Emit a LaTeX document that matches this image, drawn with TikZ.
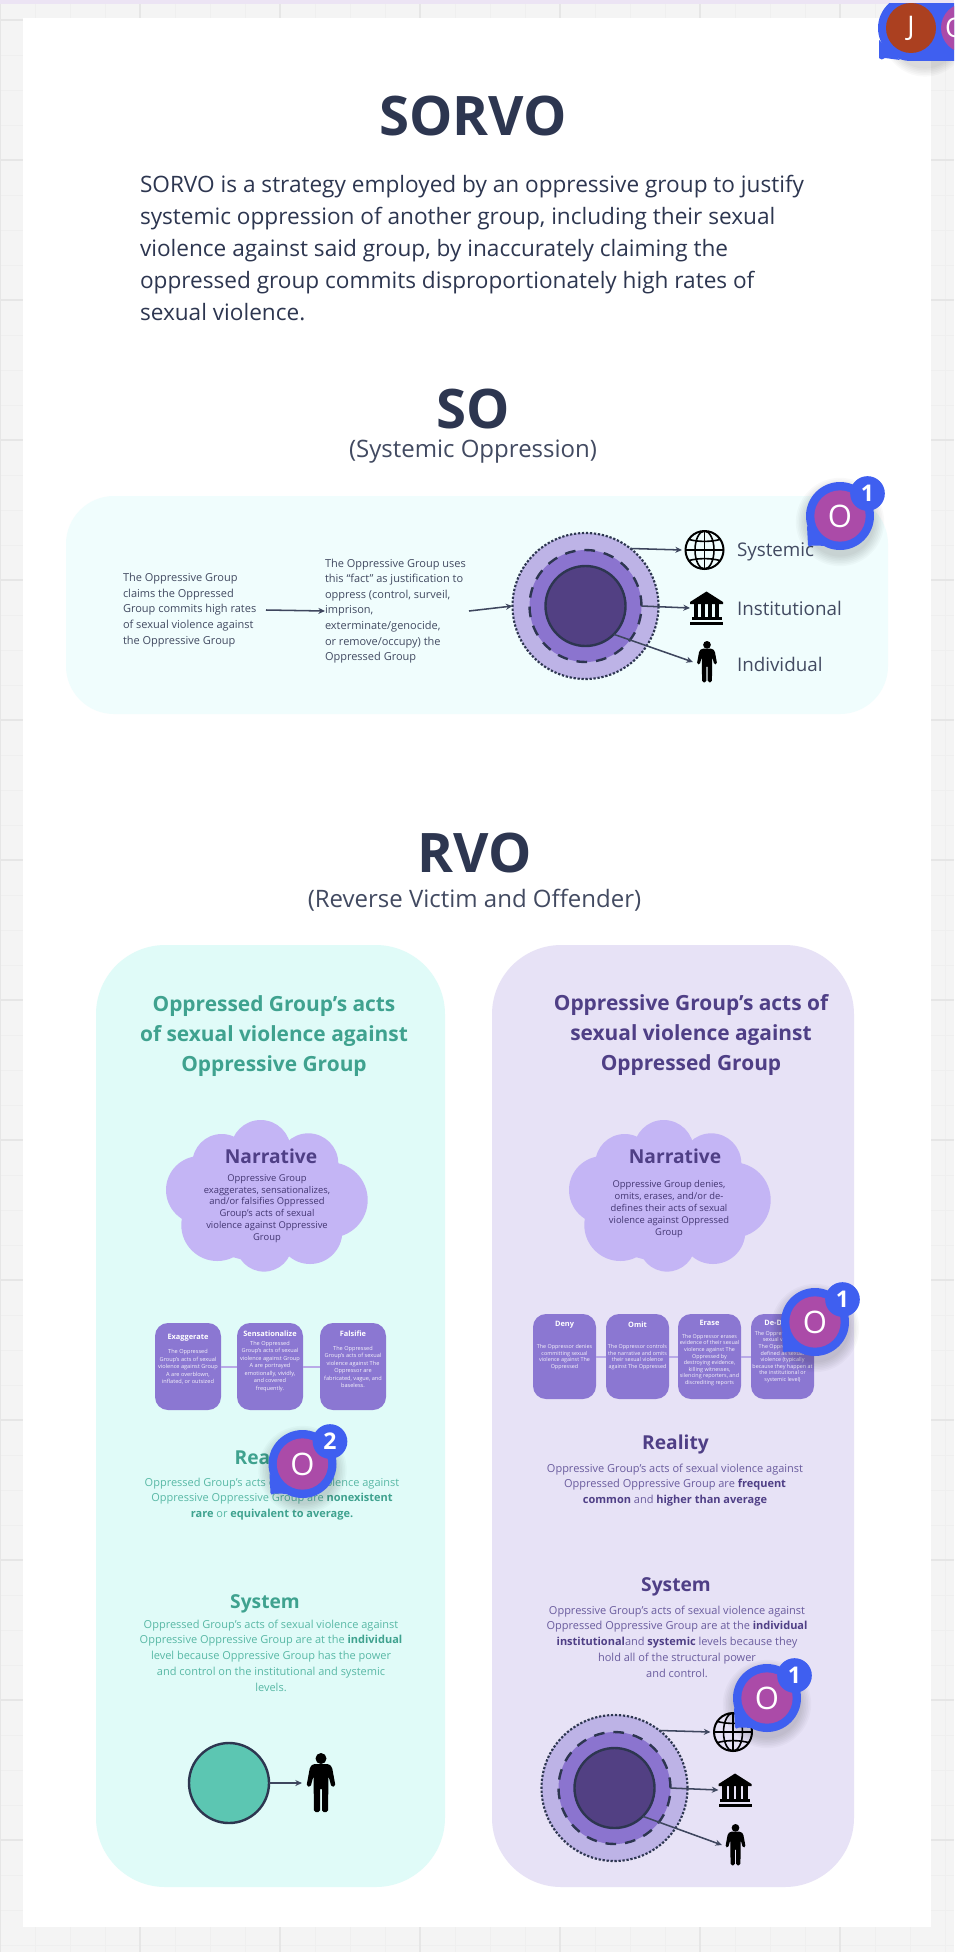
\documentclass[tikz,border=0pt]{standalone}
\usepackage{fontspec}
\setmainfont{Open Sans}
\usetikzlibrary{arrows.meta}
\definecolor{bgc}{HTML}{F4F4F4}
\definecolor{gridminor}{HTML}{EFEFEF}
\definecolor{gridmajor}{HTML}{E6E6E6}
\definecolor{topstrip}{HTML}{ECE4F4}
\definecolor{ink}{HTML}{2D3650}
\definecolor{soPanel}{HTML}{F0FDFD}
\definecolor{tealPanel}{HTML}{E0FBF8}
\definecolor{lilacPanel}{HTML}{E7E2F6}
\definecolor{tealDark}{HTML}{3FA28F}
\definecolor{tealText}{HTML}{58B8A5}
\definecolor{tealFill}{HTML}{5CC6B2}
\definecolor{plumDark}{HTML}{4F3F86}
\definecolor{plumText}{HTML}{6A5C9E}
\definecolor{cloudc}{HTML}{C4B5F5}
\definecolor{boxc}{HTML}{8B77D2}
\definecolor{linkc}{HTML}{B9AAE8}
\definecolor{ringA}{HTML}{BDB3E6}
\definecolor{ringB}{HTML}{8B74CF}
\definecolor{ringC}{HTML}{524083}
\definecolor{bblue}{HTML}{3F5FF0}
\definecolor{bpurple}{HTML}{AB4BA8}
\definecolor{bred}{HTML}{AB4020}
\newcommand{\pxf}[2]{\fontsize{\fpeval{#1*0.75}}{\fpeval{#2*0.75}}\selectfont}
\tikzset{
  txt/.style={inner sep=0pt,outer sep=0pt,align=center},
  heading/.style={txt,text=ink,font=\bfseries\pxf{54.5}{60}},
  subhead/.style={txt,text=ink!90!white,font=\pxf{24}{30}},
  leadtext/.style={txt,text=ink,anchor=north west,align=left,font=\pxf{22.6}{32}},
  flowtext/.style={txt,text=ink!90!white,anchor=west,align=flush left,text width=#1*0.75pt,font=\pxf{11}{15.6}},
  levellabel/.style={txt,text=ink!90!white,anchor=west,font=\pxf{18.8}{24}},
  paneltitle/.style={txt,font=\bfseries\pxf{20.9}{30}},
  sectitle/.style={txt,font=\bfseries\pxf{19.2}{24}},
  cloudbody/.style={txt,text=plumDark!85!black,font=\pxf{9.4}{11.8}},
  tealbody/.style={txt,text=tealText,font=\pxf{11}{15.8}},
  plumbody/.style={txt,text=plumText,font=\pxf{11}{15.8}},
  stepbox/.style={rounded corners=13*0.75pt,fill=boxc,inner sep=0pt,outer sep=0pt,minimum width=#1*0.75pt},
  boxhead/.style={txt,text=white,font=\bfseries\pxf{7.4}{9}},
  boxbody/.style={txt,text=white!92!boxc,font=\pxf{5.6}{7.5}},
  boxlink/.style={draw=linkc,line width=1.5pt},
  conn/.style={draw=ink!92!white,line width=1.15pt,-{Stealth[length=5pt,width=4.5pt]}},
  ring/.style={circle,inner sep=0pt,outer sep=0pt,minimum size=#1*1.5pt},
  ringout/.style={ring=#1,fill=ringA,draw=ink,line width=1.6pt,dash pattern=on 1.7pt off 1.3pt},
  ringmid/.style={ring=#1,fill=ringB,draw=ink,line width=1.8pt,dash pattern=on 8pt off 6.7pt},
  ringin/.style={ring=#1,fill=ringC,draw=ink,line width=1.8pt},
  iconbox/.style={inner sep=0pt,outer sep=0pt,minimum height=20pt,minimum width=#1*0.75pt},
  person/.pic={
    \fill[black] (0,-24.5) circle[radius=5.5];
    \fill[black,rounded corners=1.2pt] (-8,-19) -- (8,-19) -- (11,-16) -- (14.5,3) -- (10.5,4) -- (7.5,-7) -- (7,29) -- (1,29) -- (1,5) -- (-1,5) -- (-1,29) -- (-7,29) -- (-7.5,-7) -- (-10.5,4) -- (-14.5,3) -- (-11,-16) -- cycle;
  },
  temple/.pic={
    \fill[black] (-16.5,-6) -- (0,-16.5) -- (16.5,-6) -- (16.5,-4) -- (-16.5,-4) -- cycle;
    \foreach \cx in {-10.5,-3.5,3.5,10.5} {\fill[black] (\cx-2.4,-4) rectangle (\cx+2.4,9);}
    \fill[black] (-15,9) rectangle (15,11.5);
    \fill[black] (-16.5,13.5) rectangle (16.5,16.5);
  },
  globe/.pic={
    \draw[black,line width=1.5pt] (0,0) circle[x radius=19,y radius=19];
    \draw[black,line width=1.2pt] (0,0) circle[x radius=9.5,y radius=19];
    \draw[black,line width=1.2pt] (0,-19) -- (0,19) (-19,0) -- (19,0);
    \draw[black,line width=1.2pt] (-15.5,-10.5) .. controls (-6,-8) and (6,-8) .. (15.5,-10.5);
    \draw[black,line width=1.2pt] (-15.5,10.5) .. controls (-6,8) and (6,8) .. (15.5,10.5);
  },
  badgeout/.style={circle,fill=bblue,inner sep=0pt,outer sep=0pt,minimum size=51pt},
  badgein/.style={circle,fill=bpurple,inner sep=0pt,outer sep=0pt,minimum size=38.5pt,text=white,font=\pxf{31}{34}},
  badgenum/.style={circle,fill=bblue,inner sep=0pt,outer sep=0pt,minimum size=26pt,text=white,font=\bfseries\pxf{23}{26}},
}
% name, x, y, number
\newcommand{\commentbadge}[4]{%
  \foreach \k in {1,...,7} {\fill[black,opacity=.022] (#2,#3+6) circle[radius=33+\k*1.6];}
  \fill[bblue] (#2-33,#3+10) -- (#2-32,#3+29) .. controls (#2-32,#3+31) and (#2-30,#3+31) .. (#2-28,#3+29.5) -- (#2-10,#3+30) -- cycle;
  \node[badgeout] (#1out) at (#2,#3) {};
  \node[badgein] (#1in) at (#2,#3) {O};
  \node[badgenum] (#1num) at (#2+27.5,#3-22.5) {#4};
}
\newcommand{\narrativecloud}[1]{%
  \begin{scope}[shift={(#1,0)}]
    \foreach \cx/\cy/\cr in {260.7/1150/30,221.7/1163.3/29.3,308.3/1163.3/30,200/1190/34,330/1200/37.7,217.3/1225/36,310/1231.7/32.3,264/1243.3/28.3,265/1193/56,250/1210/50,285/1205/50}
      {\fill[cloudc] (\cx,\cy) circle[radius=\cr];}
  \end{scope}
}
\begin{document}
\begin{tikzpicture}[x=0.75pt,y=-0.75pt]
\useasboundingbox (0,0) rectangle (954,1952);
% board background
\fill[bgc] (0,0) rectangle (954,1952);
\foreach \gx in {35,70,...,945} {\draw[gridminor,line width=.6pt] (\gx,0) -- (\gx,1952);}
\foreach \gy in {20,55,...,1945} {\draw[gridminor,line width=.6pt] (0,\gy) -- (954,\gy);}
\foreach \gx in {0,140,...,945} {\draw[gridmajor,line width=.8pt] (\gx,0) -- (\gx,1952);}
\foreach \gy in {20,160,...,1945} {\draw[gridmajor,line width=.8pt] (0,\gy) -- (954,\gy);}
\fill[topstrip] (0,0) rectangle (954,4);
\fill[white] (23,18) rectangle (931,1927);

% header
\node[heading] (title) at (473,116) {SORVO};
\node[leadtext] (lead) at (140,175) {SORVO is a strategy employed by an oppressive group to justify\\systemic oppression of another group, including their sexual\\violence against said group, by inaccurately claiming the\\oppressed group commits disproportionately high rates of\\sexual violence.};
\node[heading] (so) at (473,409) {SO};
\node[subhead] (sosub) at (473,452) {(Systemic Oppression)};

% SO panel
\fill[soPanel,rounded corners=36pt] (66,496) rectangle (888,714);
\node[flowtext=143] (claim) at (123,610) {The Oppressive Group\\claims the Oppressed\\Group commits high rates\\of sexual violence against\\the Oppressive Group};
\node[flowtext=144] (fact) at (325,611) {The Oppressive Group uses\\this “fact” as justification to\\oppress (control, surveil,\\imprison,\\exterminate/genocide,\\or remove/occupy) the\\Oppressed Group};
\node[ringout=73] (soA) at (585.5,606) {};
\node[ringmid=56] (soB) at (585.5,606) {};
\node[ringin=40] (soC) at (585.5,606) {};
\node[iconbox=45] (soGlobe) at (704.5,550) {};
\node[iconbox=33] (soTemple) at (706.5,608) {};
\node[iconbox=28] (soPerson) at (707,662) {};
\pic at (soGlobe) {globe};
\pic at (soTemple) {temple};
\pic[scale=.7] at (soPerson) {person};
\draw[conn] (claim.east) -- (fact.west);
\draw[conn] (fact.east) -- (soA.west);
\draw[conn] (soA.52) -- (soGlobe.west);
\draw[conn] (soB.east) -- (soTemple.west);
\draw[conn] (soC.-45) -- (soPerson.west);
\node[levellabel] (lblS) at (737,552) {Systemic};
\node[levellabel] (lblI) at (737,608) {Institutional};
\node[levellabel] (lblP) at (737,664) {Individual};

% RVO header
\node[heading] (rvo) at (475,853) {RVO};
\node[subhead] (rvosub) at (474.5,900) {(Reverse Victim and Offender)};

% RVO panels
\fill[tealPanel,rounded corners=52pt] (96,945) rectangle (445,1887);
\fill[lilacPanel,rounded corners=52pt] (492,945) rectangle (854,1887);

% left column
\node[paneltitle,text=tealDark] (ltitle) at (274,1036.5) {Oppressed Group’s acts\\of sexual violence against\\Oppressive Group};
\narrativecloud{0}
\node[sectitle,text=plumDark] (lnarr) at (271,1156) {Narrative};
\node[cloudbody] (lnarrb) at (267,1208.5) {Oppressive Group\\exaggerates, sensationalizes,\\and/or falsifies Oppressed\\Group’s acts of sexual\\violence against Oppressive\\Group};
\node[stepbox=66,minimum height=65.25pt] (lb1) at (188,1366.5) {};
\node[stepbox=66,minimum height=65.25pt] (lb2) at (270,1366.5) {};
\node[stepbox=66,minimum height=65.25pt] (lb3) at (353,1366.5) {};
\draw[boxlink] (lb1) -- (lb2);
\draw[boxlink] (lb2) -- (lb3);
\node[boxhead] at (188,1338) {Exaggerate};
\node[boxbody] at (188,1367) {The Oppressed\\Group’s acts of sexual\\violence against Group\\A are overblown,\\inflated, or outsized};
\node[boxhead] at (270,1334) {Sensationalize};
\node[boxbody] at (270,1366.5) {The Oppressed\\Group’s acts of sexual\\violence against Group\\A are portrayed\\emotionally, vividly,\\and covered\\frequently.};
\node[boxhead] at (353,1334) {Falsifie};
\node[boxbody] at (353,1367) {The Oppressed\\Group’s acts of sexual\\violence against The\\Oppressor are\\fabricated, vague, and\\baseless.};
\node[sectitle,text=tealDark] (lreal) at (268,1459) {Reality};
\node[tealbody] (lrealb) at (272,1499) {Oppressed Group’s acts of sexual violence against\\Oppressive Oppressive Group are \textcolor{tealDark}{\textbf{nonexistent}}\\\textcolor{tealDark}{\textbf{rare}} or \textcolor{tealDark}{\textbf{equivalent to average.}}};
\node[sectitle,text=tealDark] (lsys) at (265,1604) {System};
\node[tealbody] (lsysb) at (271,1655.5) {Oppressed Group’s acts of sexual violence against\\Oppressive Oppressive Group are at the \textcolor{tealDark}{\textbf{individual}}\\level because Oppressive Group has the power\\and control on the institutional and systemic\\levels.};
\node[circle,inner sep=0pt,outer sep=0pt,minimum size=60pt,fill=tealFill,draw=ink,line width=1.8pt] (lcirc) at (229,1783) {};
\node[iconbox=38] (lPerson) at (321,1783) {};
\pic at (lPerson) {person};
\draw[conn] (lcirc.east) -- (lPerson.west);

% right column
\node[paneltitle,text=plumDark] (rtitle) at (691,1035.5) {Oppressive Group’s acts of\\sexual violence against\\Oppressed Group};
\narrativecloud{403}
\node[sectitle,text=plumDark] (rnarr) at (675,1156) {Narrative};
\node[cloudbody] (rnarrb) at (669,1209) {Oppressive Group denies,\\omits, erases, and/or de-\\defines their acts of sexual\\violence against Oppressed\\Group};
\node[stepbox=63,minimum height=63.75pt] (rb1) at (564.5,1356.5) {};
\node[stepbox=63,minimum height=63.75pt] (rb2) at (637.5,1356.5) {};
\node[stepbox=63,minimum height=63.75pt] (rb3) at (709.5,1356.5) {};
\node[stepbox=63,minimum height=63.75pt] (rb4) at (782.5,1356.5) {};
\draw[boxlink] (rb1) -- (rb2);
\draw[boxlink] (rb2) -- (rb3);
\draw[boxlink] (rb3) -- (rb4);
\node[boxhead] at (564.5,1325) {Deny};
\node[boxbody,font=\pxf{5.4}{6.7}] at (564.5,1357) {The Oppressor denies\\committing sexual\\violence against The\\Oppressed};
\node[boxhead] at (637.5,1325) {Omit};
\node[boxbody,font=\pxf{5.4}{6.7}] at (637.5,1357) {The Oppressor controls\\the narrative and omits\\their sexual violence\\against The Oppressed};
\node[boxhead] at (709.5,1323) {Erase};
\node[boxbody,font=\pxf{5.4}{6.6}] at (709.5,1360) {The Oppressor erases\\evidence of their sexual\\violence against The\\Oppressed  by\\destroying evidence,\\killing witnesses,\\silencing reporters, and\\discrediting reports};
\node[boxhead] at (782.5,1323) {De-Define};
\node[boxbody,font=\pxf{5.4}{6.6}] at (782.5,1357) {The Oppressor denies\\sexual violence.\\The Oppressor has\\defined as sexual\\violence (typically\\because they happen at\\the institutional or\\systemic level)};
\node[sectitle,text=plumDark] (rreal) at (675.5,1444.5) {Reality};
\node[plumbody] (rrealb) at (675,1485) {Oppressive Group’s acts of sexual violence against\\Oppressed Oppressive Group are \textcolor{plumDark}{\textbf{frequent}}\\\textcolor{plumDark}{\textbf{common}} and \textcolor{plumDark}{\textbf{higher than average}}};
\node[sectitle,text=plumDark] (rsys) at (676,1586.5) {System};
\node[plumbody] (rsysb) at (677,1641.5) {Oppressive Group’s acts of sexual violence against\\Oppressed Oppressive Group are at the \textcolor{plumDark}{\textbf{individual}}\\\textcolor{plumDark}{\textbf{institutional}}and \textcolor{plumDark}{\textbf{systemic}} levels because they\\hold all of the structural power\\and control.};
\node[ringout=73] (rA) at (614.5,1788) {};
\node[ringmid=56] (rB) at (614.5,1788) {};
\node[ringin=40] (rC) at (614.5,1788) {};
\node[iconbox=45] (rGlobe) at (733,1732) {};
\node[iconbox=33] (rTemple) at (735,1790) {};
\node[iconbox=27] (rPerson) at (735.5,1845) {};
\pic at (rGlobe) {globe};
\pic at (rTemple) {temple};
\pic[scale=.7] at (rPerson) {person};
\draw[conn] (rA.52) -- (rGlobe.west);
\draw[conn] (rB.east) -- (rTemple.west);
\draw[conn] (rC.-45) -- (rPerson.west);

% comment badges
\commentbadge{bSo}{840}{516}{1}
\commentbadge{bLeft}{302.5}{1464}{2}
\commentbadge{bRight}{815}{1322}{1}
\commentbadge{bSys}{767}{1698}{1}
% clipped presence badges at the top right
\begin{scope}
  \clip (860,4) rectangle (954,90);
  \foreach \k in {1,...,6} {\fill[black,opacity=.022] (925,34) circle[radius=33+\k*1.6];}
  \fill[bblue] (911,-5) rectangle (970,61);
  \fill[bblue] (911,28) circle[radius=33];
  \fill[bblue] (879,40) -- (879,58) .. controls (880,60) and (883,60) .. (885,58) -- (900,60) -- cycle;
  \node[circle,fill=bpurple,inner sep=0pt,minimum size=37.5pt] (pc2) at (966,28) {};
  \node[circle,fill=bred,inner sep=0pt,minimum size=37.5pt,text=white,font=\pxf{27}{30}] (pc1) at (911,28) {J};
  \node[txt,text=white,font=\pxf{27}{30},anchor=west] (pc2t) at (945,28) {O};
\end{scope}
\end{tikzpicture}
\end{document}
